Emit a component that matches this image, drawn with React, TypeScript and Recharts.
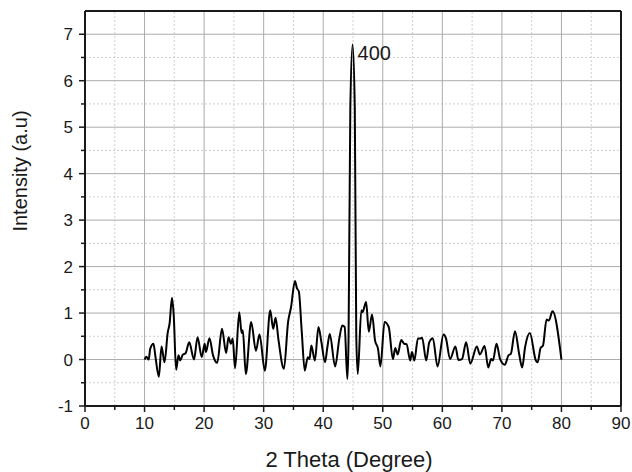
import { LineChart, Line, XAxis, YAxis, ReferenceLine, ReferenceDot, Label } from "recharts";

const THETA = [
  10, 10.3, 10.7, 10.95, 11.5, 11.8, 12.4, 12.85, 13.35, 13.9, 14.2, 14.6, 14.9, 15.3, 15.7, 16.0,
  16.4, 16.9, 17.5, 18.3, 18.9, 19.6, 20.1, 20.3, 20.9, 21.5, 22.2, 23.0, 23.7, 24.1, 24.5, 24.8,
  25.2, 25.9, 26.3, 26.5, 27.0, 27.9, 28.7, 29.3, 30.2, 31.1, 31.6, 32.0, 32.5, 33.4, 34.1, 34.6,
  35.25, 35.6, 35.9, 36.4, 36.9, 37.4, 37.7, 38.0, 38.6, 39.2, 39.7, 40.3, 40.7, 41.1, 42.0, 42.7,
  43.2, 43.6, 44.05, 44.25, 44.55, 44.93, 45.3, 45.55, 45.8, 46.4, 46.6, 47.2, 47.65, 48.2, 48.7,
  49.2, 49.6, 50.3, 51.0, 51.7, 52.1, 52.5, 53.1, 53.6, 54.0, 54.6, 54.9, 55.3, 55.9, 56.3, 56.6,
  57.3, 57.8, 58.4, 59.2, 60.2, 60.6, 61.3, 62.2, 62.7, 63.3, 64.0, 64.7, 65.8, 66.3, 67.1, 67.7,
  68.2, 68.5, 69.1, 69.7, 70.5, 71.1, 71.5, 72.2, 72.9, 73.4, 73.9, 74.7, 75.7, 76.0, 76.5, 76.9,
  77.5, 77.9, 78.5, 80,
];

const INTENSITY = [
  0, 0.06, 0, 0.23, 0.34, 0.09, -0.37, 0.28, -0.06, 0.59, 0.77, 1.33, 0.95, -0.22, 0.09, -0.02,
  0.1, 0.14, 0.37, 0, 0.48, 0.05, 0.34, 0.16, 0.46, 0.09, -0.07, 0.66, 0.14, 0.48, 0.34, 0.45,
  -0.19, 1.02, 0.57, 0.63, -0.31, 0.81, 0.19, 0.54, -0.24, 1.06, 0.66, 0.9, 0.41, -0.2, 0.81, 1.13,
  1.69, 1.53, 1.47, 0.59, -0.24, 0.05, 0.01, 0.3, -0.02, 0.7, 0.37, -0.06, 0.27, 0.55, -0.15, 0.45,
  0.73, 0.7, -0.42, 0.4, 5.4, 6.78, 5.4, 0.5, -0.31, 1.06, 1.02, 1.24, 0.6, 0.97, 0.41,
  0.23, -0.15, 0.81, 0.7, 0.01, 0.25, 0.11, 0.42, 0.34, 0.33, -0.02, 0.16, -0.02, 0.45, 0.45, 0.47,
  -0.02, 0.37, 0.46, -0.15, 0.54, 0.46, 0.01, 0.28, -0.01, 0.01, 0.37, -0.09, 0.28, 0.11, 0.29, -0.17,
  0.01, -0.02, 0.34, 0.01, -0.11, 0.09, 0.12, 0.61, 0.12, -0.17, 0.27, 0.57, -0.02, -0.06, 0.25, 0.3,
  0.86, 0.84, 1.04, 0,
];

const X_TICKS = [0, 5, 10, 15, 20, 25, 30, 35, 40, 45, 50, 55, 60, 65, 70, 75, 80, 85, 90];
const Y_TICKS = [-1, -0.5, 0, 0.5, 1, 1.5, 2, 2.5, 3, 3.5, 4, 4.5, 5, 5.5, 6, 6.5, 7];
const X_GRID_MAJOR = [10, 20, 30, 40, 50, 60, 70, 80];
const X_GRID_MINOR = [5, 15, 25, 35, 45, 55, 65, 75, 85];
const Y_GRID_MAJOR = [0, 1, 2, 3, 4, 5, 6, 7];
const Y_GRID_MINOR = [-0.5, 0.5, 1.5, 2.5, 3.5, 4.5, 5.5, 6.5];

const PEAK_THETA = 44.93;
const PEAK_INTENSITY = 6.78;
const PEAK_LABEL = "400";

const data = THETA.map((t, i) => ({ theta: t, intensity: INTENSITY[i] }));

const FONT = "'Liberation Sans', Arial, sans-serif";
const INK = "#1a1a1a";
const TICK_SIZE = 6;
const TICK_MARGIN = 4;

function XTick(props: any) {
  const { x, y, payload } = props;
  const axisY = y - TICK_SIZE - TICK_MARGIN;
  const major = payload.value % 10 === 0;
  return (
    <g>
      <line x1={x} x2={x} y1={axisY} y2={axisY + (major ? 6 : 4)} stroke={INK} strokeWidth={1.5} />
      {major && (
        <text x={x} y={axisY + 23} textAnchor="middle" fontSize={17} fontFamily={FONT} fill={INK}>
          {payload.value}
        </text>
      )}
    </g>
  );
}

function YTick(props: any) {
  const { x, y, payload } = props;
  const axisX = x + TICK_SIZE + TICK_MARGIN;
  const major = Number.isInteger(payload.value);
  return (
    <g>
      <line x1={axisX} x2={axisX - (major ? 6 : 4)} y1={y} y2={y} stroke={INK} strokeWidth={1.5} />
      {major && (
        <text x={axisX - 12} y={y} dy="0.36em" textAnchor="end" fontSize={17} fontFamily={FONT} fill={INK}>
          {payload.value}
        </text>
      )}
    </g>
  );
}

export default function App() {
  return (
    <div style={{ position: "absolute", left: 0, top: 0, background: "#fff" }}>
      <LineChart width={632} height={472} data={data} margin={{ top: 11, right: 11, bottom: 0, left: 0 }}>
        {X_GRID_MINOR.map((v) => (
          <ReferenceLine key={`xm${v}`} x={v} stroke="#cfcfcf" strokeDasharray="2 2" />
        ))}
        {Y_GRID_MINOR.map((v) => (
          <ReferenceLine key={`ym${v}`} y={v} stroke="#cfcfcf" strokeDasharray="2 2" />
        ))}
        {X_GRID_MAJOR.map((v) => (
          <ReferenceLine key={`xM${v}`} x={v} stroke="#ababab" />
        ))}
        {Y_GRID_MAJOR.map((v) => (
          <ReferenceLine key={`yM${v}`} y={v} stroke="#ababab" />
        ))}
        <XAxis
          type="number"
          dataKey="theta"
          domain={[0, 90]}
          ticks={X_TICKS}
          interval={0}
          height={66}
          tickSize={TICK_SIZE}
          tickMargin={TICK_MARGIN}
          tickLine={false}
          tick={<XTick />}
          axisLine={{ stroke: INK, strokeWidth: 2 }}
        >
          <Label
            content={(p: any) => {
              const vb = p.viewBox;
              return (
                <text x={vb.x + vb.width / 2 - 4} y={vb.y + 61} textAnchor="middle" fontSize={22} fontFamily={FONT} fill={INK}>
                  2 Theta (Degree)
                </text>
              );
            }}
          />
        </XAxis>
        <YAxis
          type="number"
          domain={[-1, 7.5]}
          ticks={Y_TICKS}
          interval={0}
          width={85}
          tickSize={TICK_SIZE}
          tickMargin={TICK_MARGIN}
          tickLine={false}
          tick={<YTick />}
          axisLine={{ stroke: INK, strokeWidth: 2 }}
        >
          <Label
            content={(p: any) => {
              const vb = p.viewBox;
              const cx = vb.x + 20;
              const cy = vb.y + 160;
              return (
                <text
                  x={cx}
                  y={cy}
                  dy="0.36em"
                  textAnchor="middle"
                  fontSize={20}
                  fontFamily={FONT}
                  fill={INK}
                  transform={`rotate(-90 ${cx} ${cy})`}
                >
                  Intensity (a.u)
                </text>
              );
            }}
          />
        </YAxis>
        <Line
          type="monotone"
          dataKey="intensity"
          stroke="#000"
          strokeWidth={2}
          dot={false}
          isAnimationActive={false}
        />
        <ReferenceLine y={7.5} stroke={INK} strokeWidth={2} />
        <ReferenceLine x={90} stroke={INK} strokeWidth={2} />
        <ReferenceDot
          x={PEAK_THETA}
          y={PEAK_INTENSITY}
          r={0}
          fill="none"
          stroke="none"
          label={(p: any) => {
            const vb = p.viewBox;
            return (
              <text x={vb.x + 5} y={vb.y + 16} fontSize={20} fontFamily={FONT} fill={INK}>
                {PEAK_LABEL}
              </text>
            );
          }}
        />
      </LineChart>
    </div>
  );
}
